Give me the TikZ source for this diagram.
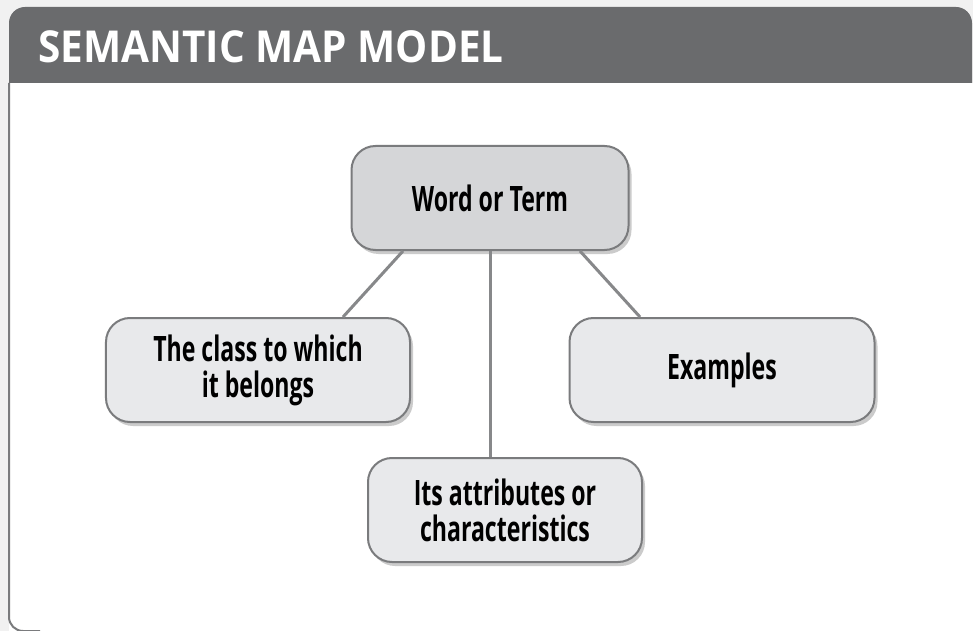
\documentclass[tikz,border=0pt]{standalone}
\usepackage{fontspec}
\usepackage{tikz}
\usetikzlibrary{shadows}
\newfontfamily\titlefont[FakeStretch=0.92]{Open Sans}
\newfontfamily\boxfont[FakeStretch=0.66]{Open Sans}
\definecolor{hdrgray}{HTML}{6A6B6D}
\definecolor{edgegray}{HTML}{7A7B7D}
\definecolor{linegray}{HTML}{87888A}
\definecolor{topfill}{HTML}{D5D6D8}
\definecolor{boxfill}{HTML}{E8E9EB}
\definecolor{paper}{HTML}{F1F1F1}
\tikzset{
  mapbox/.style={draw=edgegray, line width=2bp, fill=boxfill, rounded corners=24bp,
    minimum height=104bp, inner sep=0pt, align=center,
    font=\boxfont\bfseries\fontsize{35bp}{36bp}\selectfont,
    drop shadow={shadow xshift=3bp, shadow yshift=-4bp, fill=black!40}},
  link/.style={draw=linegray, line width=3bp}
}
\begin{document}
\begin{tikzpicture}[x=1bp, y=-1bp]
\useasboundingbox (0,0) rectangle (973,631);
\fill[paper] (0,0) rectangle (973,631);
\fill[hdrgray, rounded corners=16bp] (9,7) rectangle (972,120);
\fill[white] (9,83) rectangle (973,631);
\draw[edgegray, line width=2bp, rounded corners=14bp] (9,83) -- (9,631) -- (40,631);
\node[anchor=west, text=white, font=\titlefont\bfseries\fontsize{44bp}{48bp}\selectfont] (title) at (35,47) {SEMANTIC MAP MODEL};

\node[mapbox, fill=topfill, minimum width=277bp] (word) at (490,198) {Word or Term};
\node[mapbox, minimum width=304bp] (class) at (258,370) {The class to which\\it belongs};
\node[mapbox, minimum width=305bp] (examples) at (722,370) {Examples};
\node[mapbox, minimum width=274bp] (attr) at (505,510) {Its attributes or\\characteristics};

\draw[link] ([xshift=-87bp]word.south) -- ([xshift=85bp]class.north);
\draw[link] (word.south) -- (word.south |- attr.north);
\draw[link] ([xshift=90bp]word.south) -- ([xshift=-82bp]examples.north);
\end{tikzpicture}
\end{document}
